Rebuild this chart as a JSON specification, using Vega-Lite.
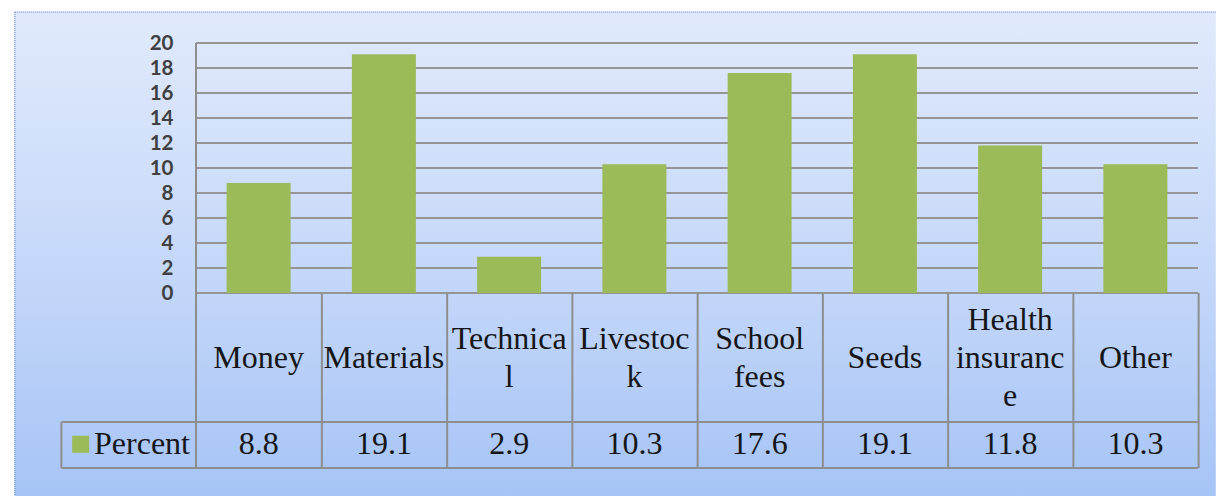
{
  "$schema": "https://vega.github.io/schema/vega-lite/v6.json",
  "width": 1221,
  "height": 496,
  "autosize": {"type": "fit", "contains": "padding"},
  "padding": 0,
  "background": "white",
  "config": {"view": {"stroke": null}},
  "resolve": {"axis": {"y": "independent", "x": "independent"}},
  "datasets": {
    "cats": [
      {"i": 0, "category": "Money", "label": ["Money"], "percent": 8.8},
      {"i": 1, "category": "Materials", "label": ["Materials"], "percent": 19.1},
      {"i": 2, "category": "Technical", "label": ["Technica", "l"], "percent": 2.9},
      {"i": 3, "category": "Livestock", "label": ["Livestoc", "k"], "percent": 10.3},
      {"i": 4, "category": "School fees", "label": ["School", "fees"], "percent": 17.6},
      {"i": 5, "category": "Seeds", "label": ["Seeds"], "percent": 19.1},
      {"i": 6, "category": "Health insurance", "label": ["Health", "insuranc", "e"], "percent": 11.8},
      {"i": 7, "category": "Other", "label": ["Other"], "percent": 10.3}
    ],
    "grid": [{"v": 0}, {"v": 2}, {"v": 4}, {"v": 6}, {"v": 8}, {"v": 10}, {"v": 12}, {"v": 14}, {"v": 16}, {"v": 18}, {"v": 20}]
  },
  "layer": [
    {
      "data": {"values": [{}]},
      "mark": {
        "type": "rect",
        "fill": {"gradient": "linear", "x1": 0, "y1": 0, "x2": 0, "y2": 1,
          "stops": [{"offset": 0, "color": "#e1eafc"}, {"offset": 0.55, "color": "#c4d7f9"}, {"offset": 1, "color": "#a6c4f6"}]}
      },
      "encoding": {
        "x": {"datum": -1.947, "type": "quantitative", "scale": {"domain": [-0.5, 7.5], "range": [191, 1203], "nice": false, "zero": false}, "axis": null},
        "x2": {"datum": 7.642},
        "y": {"datum": 22.48, "type": "quantitative", "scale": {"domain": [-14, 20], "range": [468, 43], "nice": false, "zero": false}, "axis": null},
        "y2": {"datum": -16.24}
      }
    },
    {
      "data": {"values": [{}]},
      "mark": {"type": "rule", "stroke": "#7c9fd6", "strokeWidth": 1.5, "strokeDash": [1, 1]},
      "encoding": {
        "x": {"datum": -1.947, "type": "quantitative", "scale": {"domain": [-0.5, 7.5], "range": [191, 1203], "nice": false, "zero": false}, "axis": null},
        "x2": {"datum": 7.642},
        "y": {"datum": 22.48, "type": "quantitative", "scale": {"domain": [-14, 20], "range": [468, 43], "nice": false, "zero": false}, "axis": null}
      }
    },
    {
      "data": {"values": [{}]},
      "mark": {"type": "rule", "stroke": "#7c9fd6", "strokeWidth": 1.5, "strokeDash": [1, 1]},
      "encoding": {
        "x": {"datum": -1.947, "type": "quantitative", "scale": {"domain": [-0.5, 7.5], "range": [191, 1203], "nice": false, "zero": false}, "axis": null},
        "y": {"datum": 22.48, "type": "quantitative", "scale": {"domain": [-14, 20], "range": [468, 43], "nice": false, "zero": false}, "axis": null},
        "y2": {"datum": -16.24}
      }
    },
    {
      "data": {"name": "grid"},
      "mark": {"type": "rule", "stroke": "#959595", "strokeWidth": 2.2},
      "encoding": {
        "x": {"datum": -0.5, "type": "quantitative", "scale": {"domain": [-0.5, 7.5], "range": [191, 1203], "nice": false, "zero": false}, "axis": null},
        "x2": {"datum": 7.5},
        "y": {"field": "v", "type": "quantitative", "scale": {"domain": [-14, 20], "range": [468, 43], "nice": false, "zero": false}, "axis": null}
      }
    },
    {
      "data": {"name": "cats"},
      "mark": {"type": "bar", "color": "#9bbb59", "width": 64},
      "encoding": {
        "x": {"field": "i", "type": "quantitative", "scale": {"domain": [-0.5, 7.5], "range": [191, 1203], "nice": false, "zero": false}, "axis": null},
        "y": {"field": "percent", "type": "quantitative", "scale": {"domain": [-14, 20], "range": [468, 43], "nice": false, "zero": false},
          "axis": {"values": [0, 2, 4, 6, 8, 10, 12, 14, 16, 18, 20], "offset": -191, "zindex": 2, "domain": false, "ticks": false, "grid": false, "title": null,
            "labelPadding": 18, "labelFont": "Lato", "labelFontWeight": "bold", "labelFontSize": 20.5, "labelColor": "#404040", "labelOverlap": false, "labelBound": false, "labelFlush": false}}
      }
    },
    {
      "data": {"name": "cats"},
      "mark": {"type": "rule", "stroke": "#8e8e8e", "strokeWidth": 2, "xOffset": 63.25},
      "encoding": {
        "x": {"field": "i", "type": "quantitative", "scale": {"domain": [-0.5, 7.5], "range": [191, 1203], "nice": false, "zero": false}, "axis": null},
        "y": {"datum": 0, "type": "quantitative", "scale": {"domain": [-14, 20], "range": [468, 43], "nice": false, "zero": false}, "axis": null},
        "y2": {"datum": -14}
      }
    },
    {
      "data": {"values": [{}]},
      "mark": {"type": "rule", "stroke": "#8e8e8e", "strokeWidth": 2},
      "encoding": {
        "x": {"datum": -0.5, "type": "quantitative", "scale": {"domain": [-0.5, 7.5], "range": [191, 1203], "nice": false, "zero": false}, "axis": null},
        "y": {"datum": 20, "type": "quantitative", "scale": {"domain": [-14, 20], "range": [468, 43], "nice": false, "zero": false}, "axis": null},
        "y2": {"datum": -14}
      }
    },
    {
      "data": {"values": [{}]},
      "mark": {"type": "rule", "stroke": "#8e8e8e", "strokeWidth": 2},
      "encoding": {
        "x": {"datum": -1.575, "type": "quantitative", "scale": {"domain": [-0.5, 7.5], "range": [191, 1203], "nice": false, "zero": false}, "axis": null},
        "y": {"datum": -10.32, "type": "quantitative", "scale": {"domain": [-14, 20], "range": [468, 43], "nice": false, "zero": false}, "axis": null},
        "y2": {"datum": -14}
      }
    },
    {
      "data": {"values": [{"row": -10.32}, {"row": -14}]},
      "mark": {"type": "rule", "stroke": "#8e8e8e", "strokeWidth": 2},
      "encoding": {
        "x": {"datum": -1.575, "type": "quantitative", "scale": {"domain": [-0.5, 7.5], "range": [191, 1203], "nice": false, "zero": false}, "axis": null},
        "x2": {"datum": 7.5},
        "y": {"field": "row", "type": "quantitative", "scale": {"domain": [-14, 20], "range": [468, 43], "nice": false, "zero": false}, "axis": null}
      }
    },
    {
      "data": {"name": "cats"},
      "transform": [{"filter": "length(datum.label) == 1"}],
      "mark": {"type": "text", "font": "Liberation Serif", "fontSize": 32, "lineHeight": 38, "align": "center", "baseline": "middle", "color": "#161616"},
      "encoding": {
        "x": {"field": "i", "type": "quantitative", "scale": {"domain": [-0.5, 7.5], "range": [191, 1203], "nice": false, "zero": false}, "axis": null},
        "y": {"datum": -5.2, "type": "quantitative", "scale": {"domain": [-14, 20], "range": [468, 43], "nice": false, "zero": false}, "axis": null},
        "text": {"field": "label"}
      }
    },
    {
      "data": {"name": "cats"},
      "transform": [{"filter": "length(datum.label) == 2"}],
      "mark": {"type": "text", "font": "Liberation Serif", "fontSize": 32, "lineHeight": 38, "align": "center", "baseline": "middle", "color": "#161616"},
      "encoding": {
        "x": {"field": "i", "type": "quantitative", "scale": {"domain": [-0.5, 7.5], "range": [191, 1203], "nice": false, "zero": false}, "axis": null},
        "y": {"datum": -3.68, "type": "quantitative", "scale": {"domain": [-14, 20], "range": [468, 43], "nice": false, "zero": false}, "axis": null},
        "text": {"field": "label"}
      }
    },
    {
      "data": {"name": "cats"},
      "transform": [{"filter": "length(datum.label) == 3"}],
      "mark": {"type": "text", "font": "Liberation Serif", "fontSize": 32, "lineHeight": 38, "align": "center", "baseline": "middle", "color": "#161616"},
      "encoding": {
        "x": {"field": "i", "type": "quantitative", "scale": {"domain": [-0.5, 7.5], "range": [191, 1203], "nice": false, "zero": false}, "axis": null},
        "y": {"datum": -2.16, "type": "quantitative", "scale": {"domain": [-14, 20], "range": [468, 43], "nice": false, "zero": false}, "axis": null},
        "text": {"field": "label"}
      }
    },
    {
      "data": {"name": "cats"},
      "mark": {"type": "text", "font": "Liberation Serif", "fontSize": 32, "align": "center", "baseline": "middle", "color": "#161616"},
      "encoding": {
        "x": {"field": "i", "type": "quantitative", "scale": {"domain": [-0.5, 7.5], "range": [191, 1203], "nice": false, "zero": false}, "axis": null},
        "y": {"datum": -12.1, "type": "quantitative", "scale": {"domain": [-14, 20], "range": [468, 43], "nice": false, "zero": false}, "axis": null},
        "text": {"field": "percent", "type": "quantitative", "format": ".1f"}
      }
    },
    {
      "data": {"values": [{"series": "Percent"}]},
      "mark": {"type": "point", "shape": "square", "filled": true, "size": 289, "color": "#9bbb59", "opacity": 1},
      "encoding": {
        "x": {"datum": -1.421, "type": "quantitative", "scale": {"domain": [-0.5, 7.5], "range": [191, 1203], "nice": false, "zero": false}, "axis": null},
        "y": {"datum": -12.1, "type": "quantitative", "scale": {"domain": [-14, 20], "range": [468, 43], "nice": false, "zero": false}, "axis": null}
      }
    },
    {
      "data": {"values": [{"series": "Percent"}]},
      "mark": {"type": "text", "font": "Liberation Serif", "fontSize": 32, "align": "right", "baseline": "middle", "dx": -6, "color": "#161616"},
      "encoding": {
        "x": {"datum": -0.5, "type": "quantitative", "scale": {"domain": [-0.5, 7.5], "range": [191, 1203], "nice": false, "zero": false}, "axis": null},
        "y": {"datum": -12.1, "type": "quantitative", "scale": {"domain": [-14, 20], "range": [468, 43], "nice": false, "zero": false}, "axis": null},
        "text": {"field": "series"}
      }
    }
  ]
}
